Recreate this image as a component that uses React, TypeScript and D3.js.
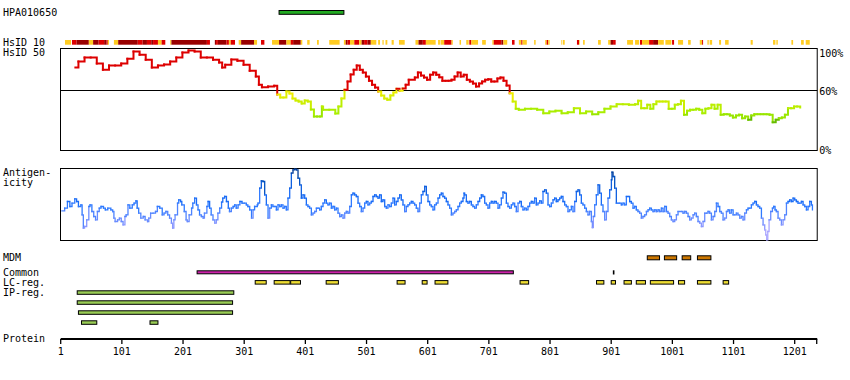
import React from 'react';
import * as d3 from 'd3';

const AXIS_MAX = 1237;
const AXIS_TICKS = [1, 101, 201, 301, 401, 501, 601, 701, 801, 901, 1001, 1101, 1201];
const PCT_TICKS = [
  { v: 100, label: '100%' },
  { v: 60, label: '60%' },
  { v: 0, label: '0%' },
];

const HPA_RANGE: [number, number] = [358, 464];

// HsID 10 segments: [start, end, level] 1=low (yellow) 2=mid (red) 3=high (dark red)
const HSID10: [number, number, number][] = [
  [8, 18, 1], [19.5, 27, 2], [27, 47, 3], [47, 54, 1], [54, 63, 3], [63, 72, 2], [72, 76, 3], [76, 78, 2], [78, 80, 1],
  [88, 95, 1], [95, 127, 3], [127, 135, 2], [135, 142, 3], [142, 149, 2], [149, 152, 3], [152, 160, 2], [160, 166, 1], [166, 172, 2],
  [180, 182, 1], [182, 240, 3], [240, 245, 2], [253, 255, 3], [255, 258, 2], [258, 272, 3], [272, 276, 2], [276, 279, 1], [279, 286, 2],
  [292, 296, 1], [296, 317, 3], [317, 322, 1], [328.5, 334, 2], [346.5, 358, 1], [358, 370, 3], [370, 377, 1], [377, 381, 2],
  [381, 393.5, 3], [393.5, 396, 1], [404, 408, 1], [420, 423, 1], [440, 457, 1], [464, 467, 1], [467, 470, 3], [470, 474, 2],
  [474, 481, 1], [481, 489, 2], [489, 493, 1], [493, 497, 3], [497, 502.5, 2], [502.5, 508, 3], [508, 517, 1], [520, 523, 1],
  [527, 529, 1], [532, 535, 1], [542, 545.5, 1], [554, 563.4, 1], [581, 586, 1], [586, 593, 3], [593, 598, 2], [598, 614, 1],
  [618, 621, 1], [622, 628, 1], [628, 640, 2], [640, 642, 1], [653, 655.5, 1], [664, 668, 1], [669, 672.4, 2], [672.4, 683.3, 1],
  [690, 696, 1], [706.7, 709, 1], [709, 721.4, 2], [721.4, 724.7, 3], [724.7, 731, 1], [738.8, 743, 2], [750, 754, 1], [754, 756, 2],
  [756, 763, 1], [775, 777.5, 1], [793, 795.5, 1], [795.5, 798, 2], [798, 800.4, 1], [819.5, 821, 1], [822.2, 825, 1],
  [845, 848.4, 2], [848.4, 849.5, 1], [855, 857.7, 1], [879.5, 884, 1], [896, 900, 1], [900, 904, 3], [904, 908.3, 2],
  [927, 936.7, 1], [940, 946.5, 1], [948, 951.4, 2], [951.4, 963, 1], [963, 969.5, 2], [969.5, 977.6, 3], [977.6, 987, 1],
  [989.6, 999.4, 1], [1000.5, 1003.8, 2], [1010.3, 1018.5, 1], [1026.7, 1031, 1], [1045.8, 1049.6, 1], [1049.6, 1051.2, 2],
  [1058.3, 1060.5, 1], [1062, 1066, 1], [1077.4, 1080.6, 1], [1087.2, 1093, 1], [1129, 1132.4, 1], [1165.6, 1169.5, 1],
  [1171, 1173.3, 1], [1195.6, 1198.4, 1], [1211.4, 1215.8, 1], [1219, 1225.6, 1],
];

// HsID 50 identity (%) : [residue, value]
const HSID50: [number, number][] = [
  [25, 83], [30, 89], [40, 93], [50, 93], [60, 87], [70, 80.7], [80, 85], [90, 85], [100, 87], [110, 91.7], [120, 99], [130, 95.7],
  [140, 90.7], [150, 83], [160, 85], [170, 86], [180, 89], [190, 93], [200, 98], [210, 100], [220, 99], [230, 93], [240, 93],
  [250, 90.7], [260, 88], [265, 83], [270, 85.7], [280, 91], [290, 89.7], [300, 85.7], [310, 79.7], [320, 74], [325, 65.7],
  [330, 63.3], [340, 64], [350, 64.7], [355, 56], [360, 53], [365, 53], [370, 59], [375, 57], [380, 52], [385, 50], [390, 49],
  [395, 47], [400, 50], [405, 49], [410, 41], [415, 34], [420, 34], [425, 34], [428, 44], [430, 40.7], [440, 40.7], [450, 37],
  [455, 44], [460, 52], [465, 60.7], [470, 69], [475, 76], [480, 80.7], [485, 85], [490, 80.7], [495, 78], [500, 74], [505, 69.7],
  [510, 65.7], [515, 63], [520, 59], [525, 55], [530, 52], [535, 50.7], [540, 55], [545, 58], [550, 61.7], [555, 59.7], [560, 62],
  [565, 65.7], [570, 70.7], [580, 73], [585, 78], [590, 75], [595, 73], [600, 70.7], [605, 75.7], [610, 78], [615, 75.7],
  [620, 73.3], [625, 69.7], [630, 69.7], [635, 69.7], [640, 70.7], [645, 74], [650, 78], [655, 74], [660, 75.7], [665, 70.7],
  [670, 69], [675, 67], [680, 64], [685, 67], [690, 69], [695, 70.7], [700, 71.3], [705, 69], [710, 69], [715, 72], [720, 73],
  [725, 69.7], [730, 65], [735, 57.3], [740, 49], [745, 41.7], [750, 40.7], [760, 41.7], [770, 41.7], [780, 40.7], [790, 37.3],
  [800, 39], [810, 39.7], [820, 37.3], [830, 38.3], [840, 42.3], [850, 37.3], [860, 39], [870, 36.3], [880, 38.3], [890, 41.7],
  [900, 44], [910, 46.3], [920, 46.3], [930, 45.7], [940, 46.3], [945, 49.7], [950, 42.3], [955, 42.3], [960, 45.7], [965, 41.7],
  [970, 46.3], [975, 49], [980, 49], [985, 49], [990, 49], [995, 41.7], [1000, 41.7], [1005, 45.7], [1010, 46.3], [1015, 49.7],
  [1020, 35.7], [1025, 39.7], [1030, 40.7], [1035, 40.7], [1040, 41.7], [1045, 40.7], [1050, 37.3], [1055, 41.7], [1060, 42.3],
  [1065, 45.7], [1070, 41.7], [1075, 45.7], [1080, 35.7], [1085, 36.3], [1090, 36.3], [1095, 35], [1100, 33], [1105, 35],
  [1110, 35.7], [1115, 32.3], [1120, 34], [1125, 30.7], [1130, 35], [1135, 36.3], [1140, 36.3], [1145, 36.3], [1150, 36.3],
  [1155, 36.3], [1160, 35.7], [1165, 28.3], [1170, 30.7], [1175, 32.3], [1180, 33], [1185, 35.7], [1190, 42.3], [1195, 42.3],
  [1200, 44], [1205, 44], [1210, 43],
];

// Antigenicity score (arbitrary units): [residue, value]
const ANTIGEN: [number, number][] = [
  [3, 29.7], [7.5, 32.3], [12, 39], [16, 34], [19.5, 37.3], [24, 41.7], [27, 39], [30, 34], [34, 35.7], [36, 25.7], [38, 12.3],
  [40, 14], [43.5, 20.7], [47, 34], [49, 35.7], [52, 29], [55, 24], [58, 20.7], [61, 29], [64, 32.3], [67, 34], [71, 32.3],
  [74, 30.7], [78, 32.3], [83, 30.7], [86, 29], [88, 22.3], [90, 19], [94, 20.7], [97, 22.3], [100, 19], [103, 15.7], [106, 24],
  [108, 25.7], [111, 35.7], [114, 32.3], [118, 35.7], [121, 37.3], [124, 39.7], [126, 32.3], [128.5, 27.3], [132, 22.3],
  [136, 24], [139, 20.7], [143, 19], [145, 22.3], [148, 27.3], [152, 27.3], [156, 29], [159, 34], [163, 32.3], [167, 25.7],
  [170, 27.3], [173, 29], [176, 25.7], [179, 22.3], [182, 17.3], [184, 12.3], [186, 20.7], [188, 25.7], [192, 37.3], [194, 40.7],
  [197, 39], [199, 35.7], [203, 29], [206, 20.7], [208, 19], [211, 25.7], [215, 32.3], [217, 37.3], [220, 42.3], [223, 35.7],
  [225.5, 30.7], [228, 25.7], [231, 24], [234, 22.3], [236, 27.3], [240, 34], [242, 39], [244.5, 32.3], [247, 25.7], [250, 20.7],
  [253, 17.3], [255.5, 20.7], [258, 27.3], [261, 32.3], [264, 38.3], [266, 42.3], [269, 44], [272, 39], [275, 32.3], [277, 29],
  [280, 32.3], [283, 34], [285.5, 35.7], [288, 32.3], [291, 35.7], [294, 39], [297.5, 37.3], [301, 37.3], [304.5, 35.7], [307, 34],
  [310, 30.7], [313, 22.3], [315.5, 30.7], [318, 34], [322.5, 35.7],
  [323.6, 37.3], [326.3, 52.3], [329, 59.7], [331.8, 59], [334.5, 45.7], [337.2, 35.7], [340, 22.3], [342.7, 32.3], [345.4, 35.7],
  [348.1, 34], [350.8, 34], [353.6, 30.7], [356.3, 35.7], [359, 34], [361.7, 35.7], [364.5, 32.3], [367.2, 34], [369.9, 30.7],
  [372.6, 42.3], [375.4, 52.3], [378.1, 67.3], [380.8, 70.7], [383.5, 71.3], [386.3, 70.7], [389, 62.3], [391.7, 55.7],
  [394.4, 42.3], [397.2, 45.7], [399.9, 42.3], [402.6, 35.7], [405.3, 34], [408, 32.3], [410.8, 25.7], [413.5, 27.3], [416.2, 29],
  [419, 32.3], [421.7, 32.3], [424.4, 30.7], [427.1, 34], [429.9, 37.3], [432.6, 40.7], [435.3, 37.3], [438, 35.7], [440.8, 37.3],
  [443.5, 32.3], [446.2, 34], [448.9, 30.7], [451.7, 32.3], [454.4, 27.3], [457.1, 24], [459.8, 25.7], [462.6, 22.3], [465.3, 27.3],
  [468, 29], [470.7, 27.3], [473.5, 34], [476.2, 45.7], [478.9, 47.3], [481.6, 45.7], [484.4, 44], [487.1, 37.3], [489.8, 34],
  [492.5, 29], [495.3, 32.3], [498, 37.3], [500.7, 39], [503.4, 35.7], [506.2, 37.3], [508.9, 39], [511.6, 44], [514.3, 45.7],
  [517, 44], [519.8, 42.3], [522.5, 45.7], [525.2, 39], [527.9, 40.7], [530.7, 34], [533.4, 32.3], [536.1, 35.7], [538.8, 34],
  [541.6, 37.3], [544.3, 42.3], [547, 35.7], [549.7, 39], [552.5, 42.3], [555.2, 45.7], [557.9, 40.7], [560.6, 35.7], [563.4, 29],
  [566.1, 34], [568.8, 35.7], [571.5, 37.3], [574.3, 39], [577, 37.3], [579.7, 35.7], [582.4, 32.3], [585.2, 29], [587.9, 37.3],
  [590.6, 45.7], [593.3, 49], [596.1, 54], [598.8, 45.7], [601.5, 39], [604.3, 35.7], [607, 34], [609.7, 30.7], [612.4, 35.7],
  [615.2, 37.3], [617.9, 42.3], [620.6, 45.7], [623.3, 47.3], [626, 44], [628.8, 42.3], [631.5, 39],
  [634.2, 35.7], [636.9, 32.3], [639.7, 25.7], [642.4, 27.3], [645.1, 29], [647.8, 30.7], [650.6, 34], [653.3, 37.3], [656, 39],
  [658.7, 42.3], [660.4, 47.3], [661.5, 45.7], [664.2, 39], [666.9, 37.3], [669.6, 39], [672.4, 35.7], [675.1, 34], [677.8, 32.3],
  [680.5, 35.7], [683.3, 39], [686, 42.3], [688.7, 45.7], [691.4, 44], [694.2, 37.3], [696.9, 35.7], [699.6, 32.3], [702.3, 37.3],
  [705.1, 39], [707.8, 37.3], [710.5, 39], [713.2, 37.3], [716, 32.3], [718.7, 35.7], [721.4, 42.3], [724.1, 48.3], [726.9, 47.3],
  [729.6, 37.3], [732.3, 34], [735, 32.3], [737.8, 35.7], [740.5, 37.3], [743.2, 34], [745.9, 29], [748.7, 37.3], [751.4, 39],
  [754.1, 34], [756.8, 30.7], [759.6, 32.3], [762.3, 30.7], [765, 34], [767.7, 37.3], [770.5, 39], [773.2, 37.3], [775.9, 42.3],
  [778.6, 35.7], [781.4, 37.3], [784.1, 39.7], [786.8, 37.3], [789.5, 49], [792.3, 50.7], [795, 47.3], [797.7, 35.7], [800.4, 34],
  [803.2, 37.3], [805.9, 40.7], [808.6, 42.3], [811.3, 39], [814.1, 40.7], [816.8, 42.3], [819.5, 44], [822.2, 39], [825, 35.7],
  [827.7, 34], [830.4, 29], [833.1, 30.7], [835.9, 34], [838.6, 29], [841.3, 39], [844, 49], [846.8, 50.7], [849.5, 45.7],
  [852.2, 37.3], [854.9, 35.7], [857.7, 32.3], [860.4, 29], [863.1, 25.7], [865.8, 29], [868.6, 19], [870.2, 13], [871.8, 24],
  [874, 35.7], [876.7, 45.7], [879.5, 55.7], [882.2, 47.3], [884.9, 35.7], [887.6, 29], [890.4, 20.7], [893.1, 29], [895.8, 42.3],
  [898.5, 50.7], [901.3, 60.7], [902.3, 68.3], [904, 64], [906.7, 52.3], [909.4, 37.3], [912.2, 37.3], [914.9, 37.3], [917.6, 35.7],
  [920.3, 37.3], [923.1, 35.7], [925.8, 44], [928.5, 44], [931.2, 39], [934, 37.3], [936.7, 32.3], [939.4, 34], [942.1, 30.7],
  [944.9, 29], [947.6, 27.3], [950.3, 22.3], [953, 24],
  [955.8, 25.7], [958.6, 29], [961.3, 30.7], [964, 32.3], [966.7, 30.7], [969.5, 29], [972.2, 30.7], [974.9, 29], [977.6, 30.7],
  [980.4, 29], [983.1, 32.3], [985.8, 29], [988.5, 34], [991.3, 29], [994, 27.3], [996.7, 24], [999.4, 20.7], [1002.2, 19],
  [1004.9, 20.7], [1007.6, 25.7], [1010.3, 29], [1013, 29], [1015.8, 29], [1018.5, 27.3], [1021.2, 29], [1024, 27.3], [1026.7, 24],
  [1029.4, 20.7], [1032.1, 22.3], [1034.9, 25.7], [1037.6, 27.3], [1040.3, 24], [1043, 19], [1045.8, 17.3], [1048.5, 14],
  [1051.2, 19], [1053.9, 27.3], [1056.7, 27.3], [1059.4, 29], [1062.1, 27.3], [1064.8, 20.7], [1067.6, 24], [1070.3, 29],
  [1073, 37.3], [1075.7, 34], [1078.5, 29], [1081.2, 27.3], [1083.9, 20.7], [1086.6, 22.3], [1089.4, 29], [1092.1, 30.7],
  [1094.8, 27.3], [1097.5, 30.7], [1100.3, 25.7], [1103, 25.7], [1105.7, 27.3], [1108.4, 25.7], [1111.2, 22.3], [1113.9, 24],
  [1116.6, 20.7], [1119.3, 27.3], [1122.1, 30.7], [1124.8, 32.3], [1127.5, 32.3], [1130.2, 35.7], [1133, 37.3], [1135.7, 39],
  [1138.4, 35.7], [1141.1, 34], [1143.9, 32.3], [1146.6, 22.3], [1149.3, 15.7], [1152, 10.7], [1153.7, 5.7], [1155.3, 0.7],
  [1157, 9], [1159.1, 20.7], [1161.8, 29], [1164.6, 32.3], [1166.7, 34], [1168.9, 30.7], [1171.1, 29], [1173.8, 22.3],
  [1176.6, 20.7], [1179.3, 15.7], [1182, 20.7], [1184.7, 25.7], [1187.5, 37.3], [1190.2, 39], [1192.9, 40.7], [1195.6, 39],
  [1198.4, 42.3], [1201.1, 40.7], [1203.8, 39], [1206.5, 37.3], [1209.3, 37.3], [1212, 39], [1214.7, 35.7], [1217.4, 34],
  [1220.2, 30.7], [1222.9, 34], [1225.6, 39], [1228.3, 35.7], [1230, 30.7],
];

const MDM: [number, number][] = [[960, 980], [988, 1008], [1017, 1031], [1042, 1064]];
const COMMON: [number, number][] = [[224, 741]];
const COMMON_MARKS = [905];
const LC_REG: [number, number][] = [
  [319, 337], [350, 376], [377, 393], [435, 455], [551, 564], [592, 600], [613, 634], [752, 766], [877, 889], [901, 908],
  [922, 934], [942, 957], [965, 1003], [1011, 1021], [1042, 1064], [1084, 1093],
];
const IP_REG: [number, number][][] = [
  [[28, 284]],
  [[28, 282]],
  [[30, 282]],
  [[35, 60], [147, 160]],
];

const FONT = '"DejaVu Sans Mono", monospace';

function hsidColor(v: number) {
  if (v >= 60) return '#dd0000';
  if (v >= 56) return '#eeee00';
  if (v >= 52) return '#ddee00';
  if (v >= 47) return '#ccee00';
  if (v >= 42) return '#bbee00';
  if (v >= 37) return '#aaee00';
  if (v >= 32) return '#99e600';
  return '#66bb00';
}

function antigenColor(v: number) {
  if (v >= 65) return '#003d99';
  if (v >= 58) return '#0050c0';
  if (v >= 48) return '#1060e0';
  if (v >= 38) return '#1a6cf5';
  if (v >= 30) return '#2f7aff';
  if (v >= 24) return '#4f84ff';
  if (v >= 18) return '#6a8cff';
  if (v >= 12) return '#8a98ff';
  return '#aaa6ff';
}

const LEVEL_COLORS = ['#ffffff', '#ffcc22', '#dd0000', '#990000'];

export default function App() {
  const x = d3.scaleLinear().domain([1, 1201]).range([60.7, 794.7]);
  const yH = d3.scaleLinear().domain([0, 100]).range([150.5, 50.5]);
  const yA = d3.scaleLinear().domain([0, 72]).range([240.5, 168.5]);
  const left = 60.5;
  const right = x(AXIS_MAX) + 0.5;

  const stepSeg = (
    data: [number, number][],
    y: d3.ScaleLinear<number, number>,
    color: (v: number) => string,
    width: number,
  ) =>
    data.slice(0, -1).map((d, i) => {
      const n = data[i + 1];
      return (
        <path
          key={i}
          d={`M${x(d[0])},${y(d[1])}H${x(n[0])}V${y(n[1])}`}
          stroke={color(d[1])}
          strokeWidth={width}
          fill="none"
          strokeLinecap="square"
        />
      );
    });

  const bar = (r: [number, number], y: number, h: number, fill: string, key: string) => (
    <rect
      key={key}
      x={x(r[0])}
      y={y}
      width={Math.max(1, x(r[1]) - x(r[0]))}
      height={h}
      fill={fill}
      stroke="#000"
      strokeWidth={1}
    />
  );

  const labelStyle = { fontFamily: FONT, fontSize: 10, fill: '#000' };

  return (
    <svg
      width={850}
      height={380}
      style={{ position: 'absolute', left: 0, top: 0, background: '#fff' }}
    >
      {/* Labels */}
      <text x={3} y={16} {...labelStyle}>HPA010650</text>
      <text x={3} y={45.5} {...labelStyle}>HsID 10</text>
      <text x={3} y={55.5} {...labelStyle}>HsID 50</text>
      <text x={3} y={176} {...labelStyle}>Antigen-</text>
      <text x={3} y={186} {...labelStyle}>icity</text>
      <text x={3} y={261} {...labelStyle}>MDM</text>
      <text x={3} y={275.5} {...labelStyle}>Common</text>
      <text x={3} y={285.5} {...labelStyle}>LC-reg.</text>
      <text x={3} y={295.5} {...labelStyle}>IP-reg.</text>
      <text x={3} y={342} {...labelStyle}>Protein</text>

      {/* HPA antigen */}
      {bar(HPA_RANGE, 10.5, 3.8, '#22aa22', 'hpa')}

      {/* HsID 10 */}
      {HSID10.map((s, i) => (
        <rect
          key={i}
          x={x(s[0])}
          y={40}
          width={x(s[1]) - x(s[0])}
          height={4.7}
          fill={LEVEL_COLORS[s[2]]}
        />
      ))}

      {/* HsID 50 panel */}
      <rect x={left} y={48.5} width={right - left} height={102} fill="none" stroke="#000" strokeWidth={1} />
      <line x1={left} x2={right} y1={yH(60)} y2={yH(60)} stroke="#000" strokeWidth={1} />
      {stepSeg(HSID50, yH, hsidColor, 2)}
      {PCT_TICKS.map((t) => (
        <text key={t.label} x={right + 2} y={yH(t.v) + (t.v === 0 ? 3 : t.v === 100 ? 6.5 : 4)} {...labelStyle}>
          {t.label}
        </text>
      ))}

      {/* Antigenicity panel */}
      <rect x={left} y={168.5} width={right - left} height={72} fill="none" stroke="#000" strokeWidth={1} />
      {stepSeg(ANTIGEN, yA, antigenColor, 1.3)}

      {/* Feature tracks */}
      {MDM.map((r, i) => bar(r, 255.8, 4, '#cc7700', `mdm${i}`))}
      {COMMON.map((r, i) => bar(r, 270.8, 3, '#cc22aa', `com${i}`))}
      {COMMON_MARKS.map((r, i) => (
        <rect key={`cm${i}`} x={x(r) - 0.8} y={270.3} width={1.6} height={4.2} fill="#000" />
      ))}
      {LC_REG.map((r, i) => bar(r, 280.6, 3.5, '#eedd33', `lc${i}`))}
      {IP_REG.map((row, j) => row.map((r, i) => bar(r, 290.8 + j * 10, 3.5, '#99cc55', `ip${j}-${i}`)))}

      {/* Axis */}
      <line x1={x(1)} x2={right} y1={339} y2={339} stroke="#000" strokeWidth={2.2} />
      {AXIS_TICKS.map((t) => (
        <g key={t}>
          <line x1={x(t)} x2={x(t)} y1={339} y2={344} stroke="#000" strokeWidth={1.3} />
          <text x={x(t)} y={354.5} textAnchor="middle" {...labelStyle}>{t}</text>
        </g>
      ))}
      <line x1={right - 0.5} x2={right - 0.5} y1={339} y2={344} stroke="#000" strokeWidth={1.3} />
    </svg>
  );
}
